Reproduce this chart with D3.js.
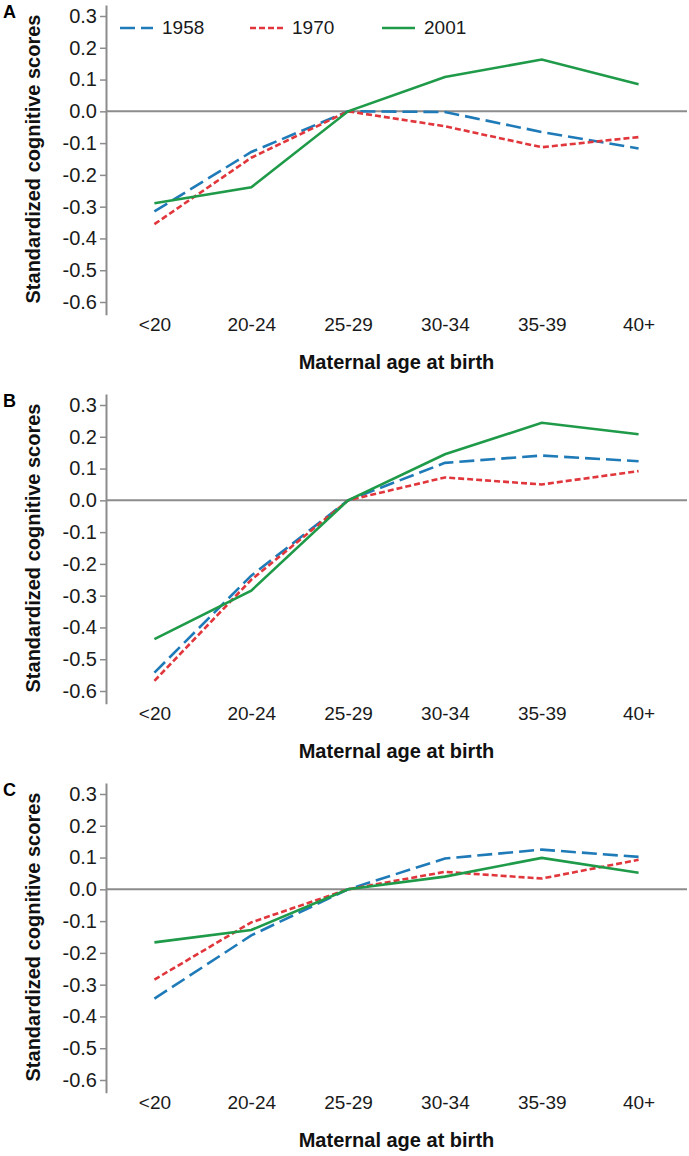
<!DOCTYPE html>
<html>
<head>
<meta charset="utf-8">
<script src="https://cdn.jsdelivr.net/npm/d3@7"></script>
<style>
	body { margin: 0; background: #fff; }
	svg { display: block; font-family: "Liberation Sans", Arial, sans-serif; }
</style>
</head>
<body>
<svg id="chart" width="689" height="1156"></svg>
<script>
//================== DATA =====================================================
var ageGroups = ["<20", "20-24", "25-29", "30-34", "35-39", "40+"];
var cohorts = ["1958", "1970", "2001"];
var panelLetters = ["A", "B", "C"];
var yTickValues = [0.3, 0.2, 0.1, 0.0, -0.1, -0.2, -0.3, -0.4, -0.5, -0.6];

var panelA_1958 = [-0.315, -0.128, 0.000, -0.002, -0.065, -0.117];
var panelA_1970 = [-0.355, -0.146, 0.000, -0.047, -0.113, -0.081];
var panelA_2001 = [-0.289, -0.239, 0.000, 0.108, 0.163, 0.085];

var panelB_1958 = [-0.542, -0.237, 0.000, 0.118, 0.141, 0.123];
var panelB_1970 = [-0.568, -0.250, 0.000, 0.072, 0.050, 0.092];
var panelB_2001 = [-0.437, -0.284, 0.000, 0.145, 0.244, 0.208];

var panelC_1958 = [-0.344, -0.145, 0.000, 0.097, 0.125, 0.102];
var panelC_1970 = [-0.284, -0.104, 0.000, 0.055, 0.034, 0.093];
var panelC_2001 = [-0.167, -0.128, 0.000, 0.040, 0.099, 0.052];

//================== STYLE ====================================================
var cohortColour = { "1958": "#1f7ab8", "1970": "#e0363c", "2001": "#1e9a48" };
var cohortDash = { "1958": "15,6", "1970": "6,3", "2001": null };
var axisGrey = "#8c8c8c";
var fontStack = "'Liberation Sans', Arial, sans-serif";

var panelHeight = 389;
var axisX = 106, axisRight = 687;

//x positions of the age groups (band centres)
var x = d3.scalePoint()
	.domain(ageGroups)
	.range([axisX, axisRight])
	.padding(0.5);

//y scale: 0.3 sits at 16px and -0.6 at 302px inside every panel
var y = d3.scaleLinear()
	.domain([-0.64, 0.335])
	.range([302 + 0.04 * 286 / 0.9, 16 - 0.035 * 286 / 0.9]);

var svg = d3.select("#chart");

function drawPanel(index, seriesValues, showLegend) {
	var g = svg.append("g")
		.attr("transform", "translate(0," + index * panelHeight + ")");

	//panel letter
	g.append("text")
		.attr("x", 3)
		.attr("y", 18)
		.style("font-size", "18px")
		.style("font-weight", "bold")
		.text(panelLetters[index]);

	//y axis
	var yAxis = d3.axisLeft(y)
		.tickValues(yTickValues)
		.tickSize(6)
		.tickSizeOuter(0)
		.tickPadding(3)
		.tickFormat(function (d) { return d.toFixed(1); });

	var yg = g.append("g")
		.attr("transform", "translate(" + axisX + ",0)")
		.call(yAxis);
	yg.select(".domain").attr("stroke", axisGrey).attr("stroke-width", 2);
	yg.selectAll(".tick line").attr("stroke", axisGrey).attr("stroke-width", 1.5);
	yg.selectAll(".tick text")
		.attr("fill", "#1a1a1a")
		.style("font-size", "20px")
		.style("font-family", fontStack);

	//x axis: labels only
	var xAxis = d3.axisBottom(x).tickSize(0).tickPadding(3);
	var xg = g.append("g")
		.attr("transform", "translate(0," + y(-0.64) + ")")
		.call(xAxis);
	xg.select(".domain").remove();
	xg.selectAll(".tick text")
		.attr("fill", "#1a1a1a")
		.style("font-size", "19px")
		.style("font-family", fontStack);

	//zero reference line
	g.append("line")
		.attr("x1", axisX)
		.attr("x2", axisRight)
		.attr("y1", y(0))
		.attr("y2", y(0))
		.attr("stroke", axisGrey)
		.attr("stroke-width", 2);

	//axis titles
	g.append("text")
		.attr("x", (axisX + axisRight) / 2)
		.attr("y", 369)
		.attr("text-anchor", "middle")
		.style("font-size", "20px")
		.style("font-weight", "bold")
		.attr("fill", "#111")
		.text("Maternal age at birth");

	g.append("text")
		.attr("transform", "translate(40," + (y(0.3) + y(-0.6)) / 2 + ") rotate(-90)")
		.attr("text-anchor", "middle")
		.style("font-size", "20px")
		.style("font-weight", "bold")
		.attr("fill", "#111")
		.text("Standardized cognitive scores");

	//series lines
	var line = d3.line()
		.x(function (d, i) { return x(ageGroups[i]); })
		.y(function (d) { return y(d); });

	cohorts.forEach(function (c, k) {
		g.append("path")
			.datum(seriesValues[k])
			.attr("d", line)
			.attr("fill", "none")
			.attr("stroke", cohortColour[c])
			.attr("stroke-width", 2.6)
			.attr("stroke-dasharray", cohortDash[c]);
	});

	//legend (panel A only)
	if (showLegend) {
		var legendX = [120, 250, 382];
		cohorts.forEach(function (c, k) {
			g.append("line")
				.attr("x1", legendX[k])
				.attr("x2", legendX[k] + 33)
				.attr("y1", 28)
				.attr("y2", 28)
				.attr("stroke", cohortColour[c])
				.attr("stroke-width", 2.6)
				.attr("stroke-dasharray", cohortDash[c]);
			g.append("text")
				.attr("x", legendX[k] + 42)
				.attr("y", 34)
				.style("font-size", "19px")
				.attr("fill", "#1a1a1a")
				.text(c);
		});
	}
}

drawPanel(0, [panelA_1958, panelA_1970, panelA_2001], true);
drawPanel(1, [panelB_1958, panelB_1970, panelB_2001], false);
drawPanel(2, [panelC_1958, panelC_1970, panelC_2001], false);
</script>
</body>
</html>
